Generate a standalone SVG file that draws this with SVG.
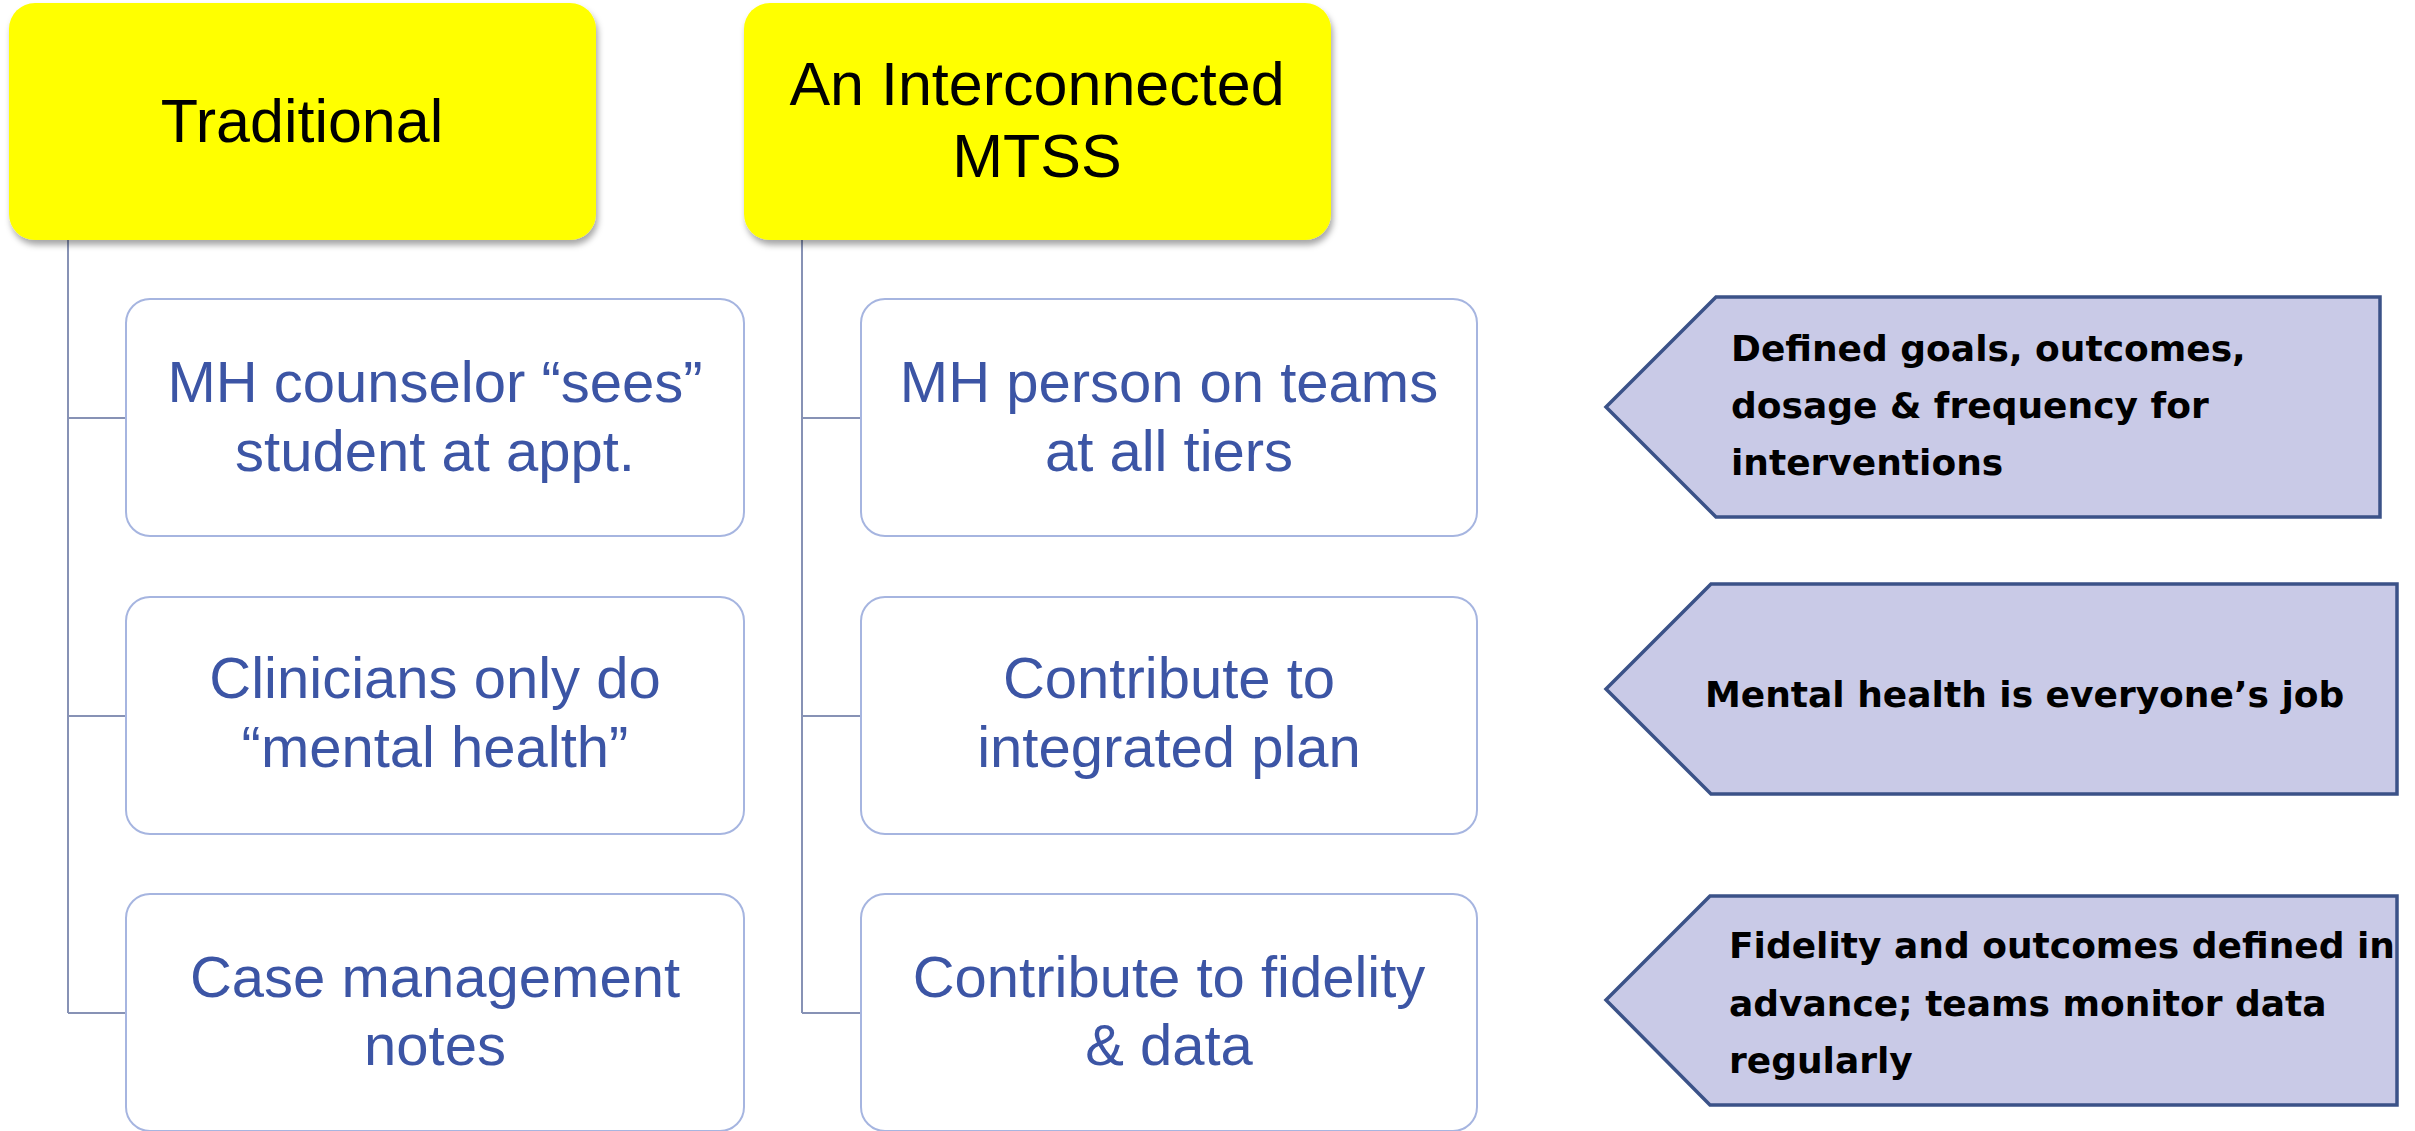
<svg xmlns="http://www.w3.org/2000/svg" width="2415" height="1131" viewBox="0 0 2415 1131">
<defs>
<filter id="sh" x="-10%" y="-10%" width="120%" height="130%">
<feDropShadow dx="2" dy="5" stdDeviation="3" flood-color="#000" flood-opacity="0.35"/>
</filter>
<style>
.hdr{fill:#FFFF00;filter:url(#sh)}
.hdrt{font-family:"Liberation Sans",Arial,sans-serif;font-size:61px;fill:#000;text-anchor:middle}
.child{fill:#fff;stroke:#A6B5E0;stroke-width:2}
.childt{font-family:"Liberation Sans",Arial,sans-serif;font-size:58px;fill:#3C55A5;text-anchor:middle}
.conn{fill:none;stroke:#8792B5;stroke-width:2}
.pent{fill:#C9CAE7;stroke:#3B5288;stroke-width:3.5;stroke-linejoin:miter}
.pentt{font-family:"DejaVu Sans",Verdana,sans-serif;font-weight:bold;font-size:36px;fill:#000}
</style>
</defs>
<rect width="2415" height="1131" fill="#fff"/>

<g id="connectors">
<path class="conn" d="M68 240 V1013 M68 418 H126 M68 716 H126 M68 1013 H126"/>
<path class="conn" d="M802 240 V1013 M802 418 H861 M802 716 H861 M802 1013 H861"/>
</g>

<g id="hdr-traditional">
<rect class="hdr" x="9" y="3" width="587" height="237" rx="26"/>
<text class="hdrt" x="302" y="142">Traditional</text>
</g>
<g id="hdr-mtss">
<rect class="hdr" x="744" y="3" width="587" height="237" rx="26"/>
<text class="hdrt" x="1037" y="105">An Interconnected</text>
<text class="hdrt" x="1037" y="177">MTSS</text>
</g>

<g id="trad-1">
<rect class="child" x="126" y="299" width="618" height="237" rx="24"/>
<text class="childt" x="435" y="402">MH counselor “sees”</text>
<text class="childt" x="435" y="471">student at appt.</text>
</g>
<g id="trad-2">
<rect class="child" x="126" y="597" width="618" height="237" rx="24"/>
<text class="childt" x="435" y="698">Clinicians only do</text>
<text class="childt" x="435" y="767">“mental health”</text>
</g>
<g id="trad-3">
<rect class="child" x="126" y="894" width="618" height="237" rx="24"/>
<text class="childt" x="435" y="997">Case management</text>
<text class="childt" x="435" y="1065">notes</text>
</g>

<g id="mtss-1">
<rect class="child" x="861" y="299" width="616" height="237" rx="24"/>
<text class="childt" x="1169" y="402">MH person on teams</text>
<text class="childt" x="1169" y="471">at all tiers</text>
</g>
<g id="mtss-2">
<rect class="child" x="861" y="597" width="616" height="237" rx="24"/>
<text class="childt" x="1169" y="698">Contribute to</text>
<text class="childt" x="1169" y="767">integrated plan</text>
</g>
<g id="mtss-3">
<rect class="child" x="861" y="894" width="616" height="237" rx="24"/>
<text class="childt" x="1169" y="997">Contribute to fidelity</text>
<text class="childt" x="1169" y="1065">&amp; data</text>
</g>

<g id="note-1">
<polygon class="pent" points="1606,407 1716,297 2380,297 2380,517 1716,517"/>
<text class="pentt" x="1731" y="361">Defined goals, outcomes,</text>
<text class="pentt" x="1731" y="418">dosage &amp; frequency for</text>
<text class="pentt" x="1731" y="475">interventions</text>
</g>
<g id="note-2">
<polygon class="pent" points="1606,689 1711,584 2397,584 2397,794 1711,794"/>
<text class="pentt" x="1705" y="707">Mental health is everyone’s job</text>
</g>
<g id="note-3">
<polygon class="pent" points="1606,1000 1710,896 2397,896 2397,1105 1710,1105"/>
<text class="pentt" x="1729" y="958">Fidelity and outcomes defined in</text>
<text class="pentt" x="1729" y="1016">advance; teams monitor data</text>
<text class="pentt" x="1729" y="1073">regularly</text>
</g>
</svg>
